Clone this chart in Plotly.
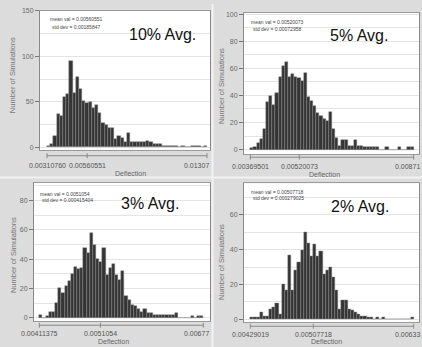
import plotly.graph_objects as go

W, H = 422, 347

# ---------------- data ----------------
panel_labels = ["10% Avg.", "5% Avg.", "3% Avg.", "2% Avg."]
min_vals = [0.0031076, 0.00369501, 0.00411375, 0.00429019]
mean_vals = [0.00560551, 0.00520073, 0.0051054, 0.00507718]
max_vals = [0.0130707, 0.0087161, 0.0067737, 0.0063303]
mean_text = ["0.00560551", "0.00520073", "0.0051054", "0.00507718"]
std_text = ["0.00185847", "0.00072958", "0.000415404", "0.000279025"]
tick_min_text = ["0.00310760", "0.00369501", "0.00411375", "0.00429019"]
tick_mean_text = ["0.00560551", "0.00520073", "0.0051054", "0.00507718"]
tick_max_text = ["0.01307", "0.00871", "0.00677", "0.00633"]

counts_10 = [2, 4, 13, 37, 35, 55, 59, 95, 60, 77, 64, 51, 49, 50, 43, 47, 38, 27, 25, 21,
             21, 9, 13, 10, 6, 16, 6, 6, 6, 6, 6, 7, 6, 4, 4, 4, 2, 2, 2, 2,
             2, 0, 2, 0, 0, 2, 2, 2, 0, 2]
counts_5 = [1, 2, 5, 8, 15, 35, 40, 33, 42, 54, 62, 65, 54, 56, 54, 53, 51, 57, 39, 36,
            32, 27, 25, 23, 21, 28, 15, 9, 3, 7, 7, 3, 3, 7, 3, 3, 2, 2, 2, 2,
            2, 0, 0, 2, 0, 0, 0, 2, 0, 0, 2, 2]
counts_3 = [2, 0, 1, 4, 4, 10, 20, 17, 22, 25, 30, 35, 33, 34, 48, 44, 58, 50, 40, 38,
            48, 29, 34, 37, 29, 26, 32, 15, 12, 9, 8, 6, 4, 6, 3, 3, 2, 2, 2, 2,
            2, 2, 2, 3, 0, 0, 0, 0, 1, 0, 1, 1]
counts_2 = [1, 1, 1, 4, 2, 2, 6, 7, 9, 3, 20, 17, 37, 17, 28, 33, 40, 50, 44, 36,
            43, 36, 39, 26, 28, 30, 24, 17, 6, 11, 11, 6, 5, 4, 3, 2, 2, 1, 1, 0,
            1, 0, 1, 0, 0, 0, 0, 0, 0, 0, 0, 1]
all_counts = [counts_10, counts_5, counts_3, counts_2]

y_major = [50, 20, 20, 20]
y_minor = [25, 10, 10, 10]

# ---------------- layout geometry (pixels) ----------------
geom = [
    dict(l=40, r=210, t=7, b=148, pmin=47, pmax=207, y0=145.0, ppu=46 / 50, axy=153.5, lab=163, dfl=171.5, dflx=130, ytx=12, yty=72, edge=211),
    dict(l=244, r=419, t=9, b=152, pmin=250.3, pmax=413.7, y0=147.3, ppu=27.4 / 20, axy=155, lab=164, dfl=172.5, dflx=324, ytx=221, yty=83, edge=422),
    dict(l=34, r=210, t=181, b=321, pmin=39.3, pmax=203.3, y0=317.3, ppu=29.6 / 20, axy=325, lab=333.5, dfl=341.5, dflx=113, ytx=13, yty=254, edge=211),
    dict(l=244, r=419, t=181.3, b=322, pmin=250.3, pmax=413.7, y0=319.0, ppu=35.2 / 20, axy=326, lab=334, dfl=341.5, dflx=326, ytx=222, yty=261, edge=422),
]
label_pos = [(162, 31), (359, 32), (150, 202), (360, 205)]
stat_pos = [(48, 15.5, 23.5), (249, 18, 25), (38, 192, 198.5), (249, 190, 196)]


def px(x):
    return x / W


def py(y):
    return 1 - y / H


FONT = "Liberation Sans, Arial, sans-serif"
fig = go.Figure()
shapes = []
annotations = []

for i in range(4):
    g = geom[i]
    n = len(all_counts[i])
    lo, hi = min_vals[i], max_vals[i]
    bw = (hi - lo) / n
    centers = [lo + bw * (k + 0.5) for k in range(n)]
    xs = "x" if i == 0 else f"x{i+1}"
    ys = "y" if i == 0 else f"y{i+1}"
    fig.add_trace(go.Bar(
        x=centers, y=all_counts[i], width=bw,
        marker=dict(color="#353535", line=dict(color="#8a8a8a", width=0.45)),
        xaxis=xs, yaxis=ys, showlegend=False, hoverinfo="skip"))

    upp = (hi - lo) / (g["pmax"] - g["pmin"])
    xr = [lo - (g["pmin"] - g["l"]) * upp, hi + (g["r"] - g["pmax"]) * upp]
    yr = [-(g["b"] - g["y0"]) / g["ppu"], (g["y0"] - g["t"]) / g["ppu"]]
    xk = "xaxis" if i == 0 else f"xaxis{i+1}"
    yk = "yaxis" if i == 0 else f"yaxis{i+1}"
    fig.layout[xk] = dict(domain=[px(g["l"]), px(g["r"])], range=xr, anchor=ys,
                          showgrid=False, zeroline=False, showticklabels=False, ticks="",
                          showline=True, mirror=True, linecolor="#9a9a9a", linewidth=1, fixedrange=True)
    fig.layout[yk] = dict(domain=[py(g["b"]), py(g["t"])], range=yr, anchor=xs,
                          dtick=y_major[i], tick0=0, showgrid=True, gridcolor="#e4e4e4", gridwidth=1,
                          minor=dict(dtick=y_minor[i], showgrid=True, gridcolor="#e4e4e4", gridwidth=1),
                          zeroline=False, ticks="outside", ticklen=4, tickcolor="#777", tickwidth=1,
                          tickfont=dict(size=7, color="#6a6a6a", family=FONT),
                          showline=True, mirror=True, linecolor="#8a8a8a", linewidth=1, fixedrange=True)

    # offset x axis line with min / mean / max ticks
    shapes.append(dict(type="line", xref=xs, yref="paper", x0=lo, x1=hi,
                       y0=py(g["axy"]), y1=py(g["axy"]), line=dict(color="#888", width=1)))
    for v in (lo, mean_vals[i], hi):
        shapes.append(dict(type="line", xref=xs, yref="paper", x0=v, x1=v,
                           y0=py(g["axy"] - 2.5), y1=py(g["axy"] + 2.5), line=dict(color="#888", width=1)))
    for v, t in ((lo, tick_min_text[i]), (mean_vals[i], tick_mean_text[i])):
        annotations.append(dict(x=v, y=py(g["lab"]), xref=xs, yref="paper", text=t, showarrow=False,
                                xanchor="center", yanchor="middle",
                                font=dict(size=7, color="#555", family=FONT)))
    annotations.append(dict(x=px(g["edge"] - 0.5), y=py(g["lab"]), xref="paper", yref="paper",
                            text=tick_max_text[i], showarrow=False,
                            xanchor="right", yanchor="middle",
                            font=dict(size=7, color="#555", family=FONT)))
    annotations.append(dict(x=px(g["dflx"]), y=py(g["dfl"]), xref="paper", yref="paper", text="Deflection",
                            showarrow=False, xanchor="center", yanchor="middle",
                            font=dict(size=7, color="#666", family=FONT)))
    annotations.append(dict(x=px(g["ytx"]), y=py(g["yty"]), xref="paper", yref="paper",
                            text="Number of Simulations", textangle=-90, showarrow=False,
                            xanchor="center", yanchor="middle",
                            font=dict(size=7.5, color="#777", family=FONT)))
    lx, ly = label_pos[i]
    annotations.append(dict(x=px(lx), y=py(ly), xref="paper", yref="paper", text=panel_labels[i],
                            showarrow=False, xanchor="center", yanchor="middle",
                            font=dict(size=16, color="#111", family=FONT)))
    sx, sy1, sy2 = stat_pos[i]
    annotations.append(dict(x=px(sx), y=py(sy1), xref="paper", yref="paper",
                            text="mean val = " + mean_text[i], showarrow=False,
                            xanchor="left", yanchor="middle", font=dict(size=5, color="#444", family=FONT)))
    annotations.append(dict(x=px(sx + 2), y=py(sy2), xref="paper", yref="paper",
                            text="std dev = " + std_text[i], showarrow=False,
                            xanchor="left", yanchor="middle", font=dict(size=5, color="#444", family=FONT)))

# panel separators
shapes.append(dict(type="line", xref="paper", yref="paper", x0=px(212.5), x1=px(212.5), y0=0, y1=1,
                   line=dict(color="#f2f2f2", width=2)))
shapes.append(dict(type="line", xref="paper", yref="paper", x0=0, x1=1, y0=py(175.5), y1=py(175.5),
                   line=dict(color="#f2f2f2", width=2)))

fig.update_layout(width=W, height=H, margin=dict(l=0, r=0, t=0, b=0),
                  paper_bgcolor="#dcdcdc", plot_bgcolor="white", bargap=0,
                  shapes=shapes, annotations=annotations, showlegend=False)

fig.write_html("out.html", config={"displayModeBar": False},
               post_script="document.body.style.margin='0';document.body.style.overflow='hidden';")
